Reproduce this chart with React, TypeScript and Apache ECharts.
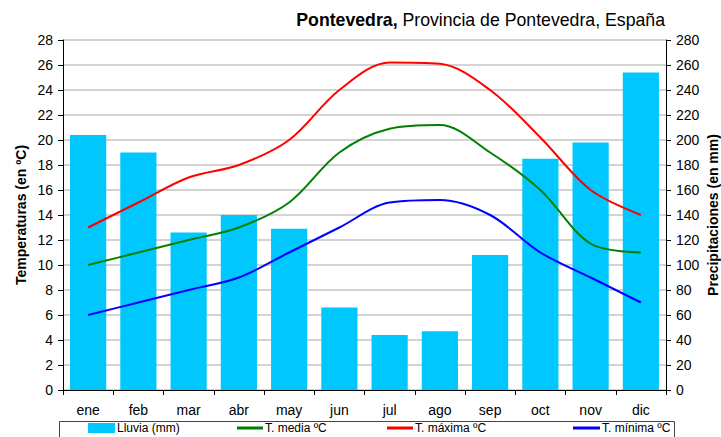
import React, { useEffect, useRef } from "react";
import * as echarts from "echarts";

const months = ["ene", "feb", "mar", "abr", "may", "jun", "jul", "ago", "sep", "oct", "nov", "dic"];
const rain = [204, 190, 126, 140, 129, 66, 44, 47, 108, 185, 198, 254];
const tMean = [10, 11, 12, 13, 15, 19, 20.9, 21.2, 19, 16, 11.7, 11];
const tMax = [13, 15, 17, 18, 20, 24, 26.2, 26.1, 24, 20.2, 16, 14];
const tMin = [6, 7, 8, 9, 11, 13, 15, 15.2, 14, 11, 9, 7];

const FONT = "Liberation Sans, Arial, sans-serif";

export default function App() {
  const ref = useRef<HTMLDivElement>(null);
  useEffect(() => {
    if (!ref.current) return;
    const chart = echarts.init(ref.current, undefined, { renderer: "svg" });
    const legendCommon = {
      top: 422,
      padding: 0,
      orient: "horizontal" as const,
      itemGap: 4,
      textStyle: { fontSize: 12, color: "#000", fontFamily: FONT, padding: [0, 0, 0, -3] },
      selectedMode: false,
    };
    chart.setOption({
      animation: false,
      backgroundColor: "#fff",
      textStyle: { fontFamily: FONT },
      title: {
        text: "{b|Pontevedra,} {n|Provincia de Pontevedra, España}",
        right: 56,
        top: 11,
        padding: 0,
        textStyle: {
          fontWeight: "normal",
          fontSize: 17.7,
          rich: {
            b: { fontSize: 17.7, fontWeight: "bold", color: "#000", fontFamily: FONT },
            n: { fontSize: 17.7, fontWeight: "normal", color: "#000", fontFamily: FONT },
          },
        },
      },
      grid: { left: 63, right: 55, top: 40, bottom: 47, containLabel: false, outerBoundsMode: "none" },
      legend: [
        { ...legendCommon, left: 88, itemWidth: 27, itemHeight: 10, data: [{ name: "Lluvia (mm)", icon: "rect" }] },
        { ...legendCommon, left: 237, itemWidth: 26, itemHeight: 3, data: [{ name: "T. media ºC", icon: "rect" }] },
        { ...legendCommon, left: 387, itemWidth: 26, itemHeight: 3, data: [{ name: "T. máxima ºC", icon: "rect" }] },
        { ...legendCommon, left: 573, itemWidth: 27, itemHeight: 3, data: [{ name: "T. mínima ºC", icon: "rect" }] },
      ],
      graphic: [
        {
          type: "rect",
          left: 57,
          top: 419,
          shape: { width: 615, height: 30 },
          style: { fill: "none", stroke: "#444", lineWidth: 1 },
          silent: true,
        },
      ],
      xAxis: {
        type: "category",
        data: months,
        boundaryGap: true,
        axisLine: { lineStyle: { color: "#000", width: 1 } },
        axisTick: { show: true, length: 5, lineStyle: { color: "#000" } },
        axisLabel: { fontSize: 14, color: "#000", margin: 13, fontFamily: FONT },
      },
      yAxis: [
        {
          type: "value",
          min: 0,
          max: 28,
          interval: 2,
          name: "Temperaturas (en ºC)",
          nameLocation: "middle",
          nameGap: 35,
          nameMoveOverlap: false,
          nameTextStyle: { fontSize: 14, fontWeight: "bold", color: "#000", fontFamily: FONT },
          axisLine: { show: true, lineStyle: { color: "#000", width: 1 } },
          axisTick: { show: true, length: 5, lineStyle: { color: "#000" } },
          axisLabel: { fontSize: 14, color: "#000", margin: 10, fontFamily: FONT },
          splitLine: { show: true, lineStyle: { color: "#c4c4c4", width: 1.5 } },
        },
        {
          type: "value",
          min: 0,
          max: 280,
          interval: 20,
          position: "right",
          name: "Precipitaciones (en mm)",
          nameLocation: "middle",
          nameGap: 40,
          nameMoveOverlap: false,
          nameTextStyle: { fontSize: 14, fontWeight: "bold", color: "#000", fontFamily: FONT },
          axisLine: { show: true, lineStyle: { color: "#000", width: 1 } },
          axisTick: { show: true, length: 5, lineStyle: { color: "#000" } },
          axisLabel: { fontSize: 14, color: "#000", margin: 10, fontFamily: FONT },
          splitLine: { show: false },
        },
      ],
      series: [
        {
          name: "Lluvia (mm)",
          type: "bar",
          yAxisIndex: 1,
          data: rain,
          barCategoryGap: "28%",
          itemStyle: { color: "#00c8ff" },
        },
        {
          name: "T. media ºC",
          type: "line",
          data: tMean,
          smooth: 0.33,
          symbol: "none",
          lineStyle: { color: "#008000", width: 2 },
          itemStyle: { color: "#008000" },
        },
        {
          name: "T. máxima ºC",
          type: "line",
          data: tMax,
          smooth: 0.33,
          symbol: "none",
          lineStyle: { color: "#ff0000", width: 2 },
          itemStyle: { color: "#ff0000" },
        },
        {
          name: "T. mínima ºC",
          type: "line",
          data: tMin,
          smooth: 0.33,
          symbol: "none",
          lineStyle: { color: "#0000ff", width: 2 },
          itemStyle: { color: "#0000ff" },
        },
      ],
    });
    return () => chart.dispose();
  }, []);
  return (
    <div
      ref={ref}
      style={{ position: "fixed", left: 0, top: 0, width: 721, height: 437, background: "#fff" }}
    />
  );
}
